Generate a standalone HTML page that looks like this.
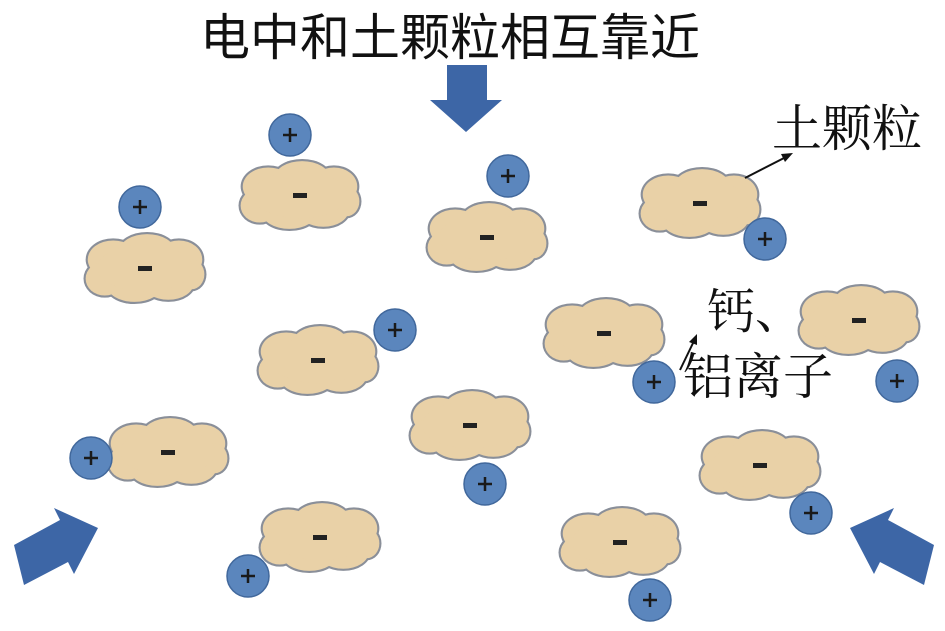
<!DOCTYPE html><html><head><meta charset="utf-8"><style>body{margin:0;background:#fff}svg{display:block}text{font-family:"Liberation Serif","Noto Serif CJK SC",serif;fill:#111}</style></head><body>
<svg width="945" height="631" viewBox="0 0 945 631">
<defs>
<g id="c0">
<g fill="#8a8f99"><ellipse cx="-30" cy="-8" rx="26" ry="20"/><ellipse cx="2" cy="-16" rx="28" ry="18"/><ellipse cx="32" cy="-8" rx="24" ry="20"/><ellipse cx="-38" cy="10" rx="20" ry="18"/><ellipse cx="-10" cy="16" rx="28" ry="18"/><ellipse cx="22" cy="14" rx="26" ry="18"/><ellipse cx="44" cy="6" rx="14" ry="16"/></g>
<g fill="#e9d1a7"><ellipse cx="-30" cy="-8" rx="24" ry="18"/><ellipse cx="2" cy="-16" rx="26" ry="16"/><ellipse cx="32" cy="-8" rx="22" ry="18"/><ellipse cx="-38" cy="10" rx="18" ry="16"/><ellipse cx="-10" cy="16" rx="26" ry="16"/><ellipse cx="22" cy="14" rx="24" ry="16"/><ellipse cx="44" cy="6" rx="12" ry="14"/><ellipse cx="0" cy="0" rx="45" ry="22"/></g>
</g>
<g id="c"><use href="#c0" transform="scale(1.06)"/><rect x="-7" y="-2" width="14" height="5" fill="#222"/></g>
<g id="p"><circle r="21" fill="#5b86bd" stroke="#41689c" stroke-width="1.5"/><path d="M-7 0H7M0 -7V7" stroke="#1a1a1a" stroke-width="2.5"/></g>
</defs>
<text x="450" y="55" font-size="50" text-anchor="middle" style="font-family:'Liberation Sans','Noto Sans CJK SC',sans-serif">电中和土颗粒相互靠近</text>
<polygon points="447,65 487,65 487,100 502,100 466,132 430,100 447,100" fill="#3d66a6"/>
<polygon points="14,545 60,520 54,508 98,528 74,574 68,562 24,585" fill="#3d66a6"/>
<polygon points="934,545 888,520 894,508 850,528 874,574 880,562 924,585" fill="#3d66a6"/>
<use href="#c" x="145" y="268"/><use href="#c" x="300" y="195"/><use href="#c" x="487" y="237"/><use href="#c" x="700" y="203"/><use href="#c" x="318" y="360"/><use href="#c" x="604" y="333"/><use href="#c" x="859" y="320"/><use href="#c" x="470" y="425"/><use href="#c" x="168" y="452"/><use href="#c" x="760" y="465"/><use href="#c" x="320" y="537"/><use href="#c" x="620" y="542"/>
<use href="#p" x="290" y="135"/><use href="#p" x="140" y="207"/><use href="#p" x="508" y="176"/><use href="#p" x="765" y="239"/><use href="#p" x="395" y="330"/><use href="#p" x="654" y="382"/><use href="#p" x="897" y="381"/><use href="#p" x="91" y="458"/><use href="#p" x="485" y="484"/><use href="#p" x="811" y="513"/><use href="#p" x="248" y="576"/><use href="#p" x="650" y="600"/>
<line x1="745" y1="178" x2="786" y2="157" stroke="#111" stroke-width="2"/><polygon points="793,153 781,154 785,162" fill="#111"/>
<line x1="680" y1="370" x2="694" y2="341" stroke="#111" stroke-width="2"/><polygon points="697,334 689,342 697,345" fill="#111"/>
<text x="772" y="146" font-size="50">土颗粒</text>
<text x="707" y="328" font-size="48">钙、</text>
<text x="683" y="394" font-size="50">铝离子</text>
</svg></body></html>
